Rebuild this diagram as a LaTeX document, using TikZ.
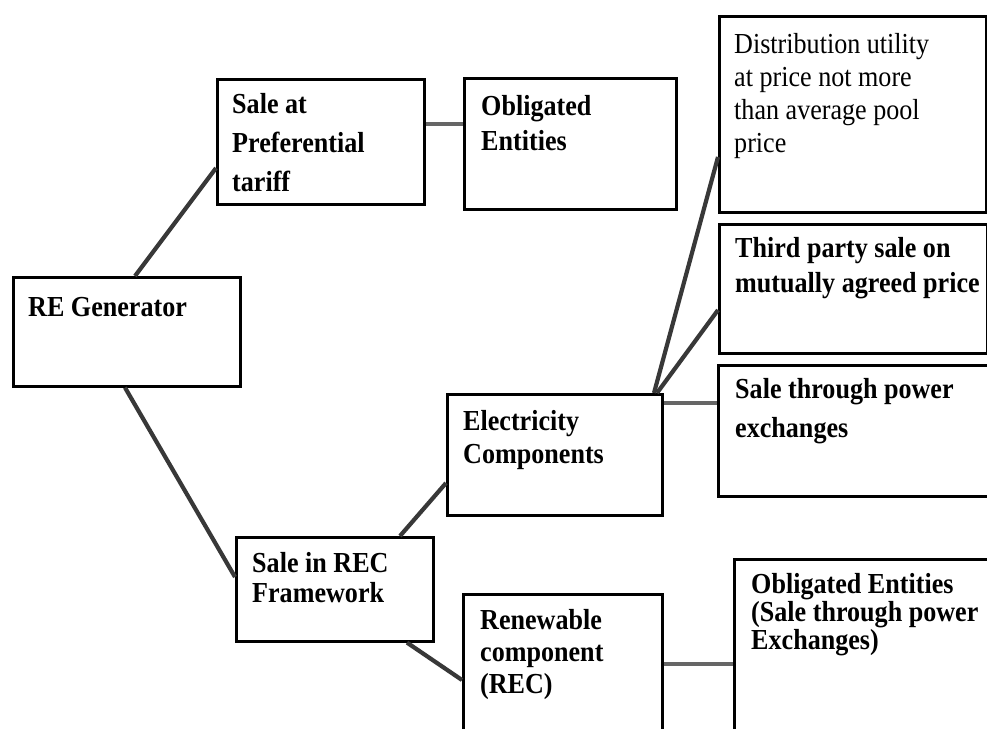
\documentclass[tikz,border=0pt]{standalone}
\usepackage{fontspec}
\setmainfont{Liberation Serif}[FakeStretch=0.9]
\usetikzlibrary{calc}
\begin{document}
\begin{tikzpicture}[x=1pt,y=-1pt,
  box/.style={draw=black,line width=2.6pt,anchor=north west,inner sep=0pt,fill=none},
  txt/.style={anchor=north west,inner sep=0pt,align=left,font=\bfseries\fontsize{29}{#1}\selectfont},
  txt/.default=39,
  rtxt/.style={anchor=north west,inner sep=0pt,align=left,font=\fontsize{29}{#1}\selectfont},
  conn/.style={draw=black!78,line width=4.2pt},
  hconn/.style={draw=black!60,line width=4.2pt}]
\useasboundingbox (0,0) rectangle (987,728);
\clip (0,0) rectangle (987,728);
\fill[white] (0,0) rectangle (987,728);
% boxes
\node[box,minimum width=227pt,minimum height=109pt] (re) at (12,276) {};
\node[box,minimum width=207pt,minimum height=125pt] (pref) at (216,78) {};
\node[box,minimum width=212pt,minimum height=131pt] (obl) at (463,77) {};
\node[box,minimum width=267pt,minimum height=196pt] (dist) at (718,15) {};
\node[box,minimum width=268pt,minimum height=129pt] (third) at (718,223) {};
\node[box,minimum width=290pt,minimum height=131pt] (pex) at (717,364) {};
\node[box,minimum width=215pt,minimum height=121pt] (elec) at (446,393) {};
\node[box,minimum width=197pt,minimum height=104pt] (srec) at (235,536) {};
\node[box,minimum width=199pt,minimum height=160pt] (ren) at (462,593) {};
\node[box,minimum width=280pt,minimum height=172pt] (obltwo) at (733,558) {};
% texts
\node[txt] (reT) at (28,297) {RE Generator};
\node[txt=39] (prefT) at (232,93) {Sale at\\Preferential\\tariff};
\node[txt=35] (oblT) at (481,95) {Obligated\\Entities};
\node[rtxt=33] (distT) at (734,33) {Distribution utility\\at price not more\\than average pool\\price};
\node[txt=35] (thirdT) at (735,237) {Third party sale on\\mutually agreed price};
\node[txt=39] (pexT) at (735,378) {Sale through power\\exchanges};
\node[txt=33] (elecT) at (463,410) {Electricity\\Components};
\node[txt=30] (srecT) at (252,552) {Sale in REC\\Framework};
\node[txt=32] (renT) at (480,609) {Renewable\\component\\(REC)};
\node[txt=28] (obltwoT) at (751,573) {Obligated Entities\\(Sale through power\\Exchanges)};
% connectors
\draw[conn] ($(re.north west)+(123,0)$) -- ($(pref.north west)+(0,90)$);
\draw[conn] ($(re.south west)+(113,0)$) -- ($(srec.north west)+(0,41)$);
\draw[hconn] ($(pref.north east)+(0,46)$) -- ($(obl.north west)+(0,47)$);
\draw[conn] ($(elec.north west)+(208,0)$) -- ($(dist.north west)+(0,142)$);
\draw[conn] ($(elec.north west)+(211,0)$) -- ($(third.north west)+(0,87)$);
\draw[hconn] ($(elec.north east)+(0,10)$) -- ($(pex.north west)+(0,39)$);
\draw[conn] ($(srec.north west)+(165,0)$) -- ($(elec.north west)+(0,90)$);
\draw[conn] ($(srec.south west)+(172,0)$) -- ($(ren.north west)+(0,87)$);
\draw[hconn] ($(ren.north east)+(0,71)$) -- ($(obltwo.north west)+(0,106)$);
\end{tikzpicture}
\end{document}
